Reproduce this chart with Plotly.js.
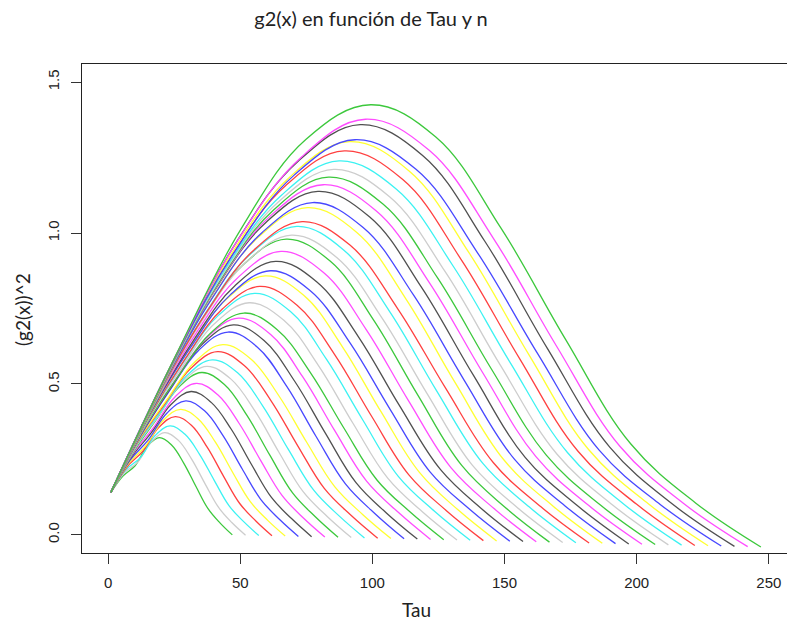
<!DOCTYPE html>
<html>
<head>
<meta charset="utf-8">
<script src="https://cdn.plot.ly/plotly-3.0.1.min.js"></script>
<style>
  html, body { margin: 0; padding: 0; background: #fff; overflow: hidden; }
  #chart { width: 787px; height: 624px; }
</style>
</head>
<body>
<div id="chart"></div>
<script>
// End of each curve (Tau at which the curve for a given n stops)
const tauEnd = [47,52,57,62,67,72,77,82,87,92,97,102,107,112,117,122,127,132,137,142,147,
                152,157,162,167,172,177,182,187,192,197,202,207,212,217,222,227,232,237,242,247];
// Sampling positions along each curve (fraction of its Tau span, from Tau = 1 to its end)
const tauFrac = [0, 0.1, 0.2, 0.3, 0.4, 0.5, 0.6, 0.7, 0.8, 0.9, 1];

// (g2(x))^2, one array per curve
const n47  = [0.14,0.195,0.229,0.293,0.322,0.298,0.238,0.161,0.087,0.039,0.000];
const n52  = [0.14,0.205,0.241,0.308,0.339,0.314,0.251,0.169,0.091,0.040,-0.001];
const n57  = [0.14,0.215,0.256,0.329,0.361,0.334,0.267,0.180,0.096,0.043,-0.002];
const n62  = [0.14,0.225,0.278,0.357,0.392,0.363,0.289,0.194,0.104,0.046,-0.003];
const n67  = [0.14,0.235,0.295,0.379,0.416,0.385,0.307,0.206,0.110,0.048,-0.004];
const n72  = [0.14,0.245,0.315,0.404,0.444,0.411,0.327,0.219,0.117,0.051,-0.005];
const n77  = [0.14,0.255,0.337,0.432,0.475,0.439,0.350,0.234,0.124,0.054,-0.006];
const n82  = [0.14,0.265,0.356,0.457,0.502,0.464,0.369,0.247,0.131,0.056,-0.007];
const n87  = [0.14,0.275,0.382,0.490,0.538,0.498,0.395,0.264,0.139,0.060,-0.008];
const n92  = [0.14,0.285,0.396,0.508,0.558,0.516,0.410,0.273,0.143,0.061,-0.009];
const n97  = [0.14,0.295,0.412,0.528,0.580,0.537,0.426,0.283,0.148,0.063,-0.010];
const n102 = [0.14,0.305,0.431,0.552,0.607,0.561,0.445,0.296,0.154,0.065,-0.011];
const n107 = [0.14,0.315,0.447,0.573,0.630,0.583,0.461,0.306,0.159,0.067,-0.012];
const n112 = [0.14,0.325,0.477,0.612,0.672,0.622,0.492,0.326,0.169,0.071,-0.013];
const n117 = [0.14,0.335,0.494,0.633,0.696,0.644,0.509,0.337,0.173,0.072,-0.014];
const n122 = [0.14,0.345,0.510,0.653,0.718,0.664,0.524,0.346,0.178,0.074,-0.015];
const n127 = [0.14,0.355,0.522,0.669,0.735,0.680,0.537,0.354,0.181,0.075,-0.016];
const n132 = [0.14,0.365,0.546,0.700,0.769,0.711,0.561,0.369,0.188,0.077,-0.017];
const n137 = [0.14,0.375,0.568,0.728,0.800,0.740,0.582,0.383,0.194,0.079,-0.018];
const n142 = [0.14,0.385,0.584,0.749,0.823,0.761,0.599,0.393,0.199,0.081,-0.019];
const n147 = [0.14,0.395,0.609,0.781,0.858,0.794,0.624,0.409,0.207,0.083,-0.020];
const n152 = [0.14,0.405,0.621,0.796,0.875,0.809,0.635,0.416,0.209,0.084,-0.021];
const n157 = [0.14,0.415,0.643,0.824,0.906,0.838,0.658,0.429,0.216,0.086,-0.022];
const n162 = [0.14,0.425,0.667,0.854,0.939,0.869,0.681,0.444,0.222,0.088,-0.023];
const n167 = [0.14,0.435,0.696,0.892,0.980,0.907,0.710,0.463,0.230,0.090,-0.024];
const n172 = [0.14,0.445,0.705,0.904,0.993,0.919,0.719,0.468,0.231,0.090,-0.025];
const n177 = [0.14,0.455,0.726,0.930,1.022,0.945,0.739,0.479,0.237,0.092,-0.026];
const n182 = [0.14,0.465,0.737,0.945,1.038,0.960,0.749,0.486,0.239,0.092,-0.027];
const n187 = [0.14,0.475,0.770,0.986,1.084,1.003,0.783,0.506,0.248,0.095,-0.028];
const n192 = [0.14,0.485,0.782,1.002,1.101,1.018,0.794,0.513,0.250,0.096,-0.029];
const n197 = [0.14,0.495,0.808,1.036,1.138,1.053,0.820,0.529,0.257,0.098,-0.030];
const n202 = [0.14,0.505,0.824,1.056,1.160,1.073,0.835,0.538,0.260,0.097,-0.031];
const n207 = [0.14,0.515,0.841,1.078,1.185,1.096,0.852,0.547,0.264,0.098,-0.032];
const n212 = [0.14,0.525,0.860,1.102,1.211,1.120,0.871,0.558,0.268,0.099,-0.033];
const n217 = [0.14,0.535,0.880,1.127,1.239,1.146,0.890,0.570,0.273,0.100,-0.034];
const n222 = [0.14,0.545,0.903,1.158,1.272,1.177,0.912,0.584,0.277,0.102,-0.035];
const n227 = [0.14,0.555,0.925,1.186,1.303,1.205,0.934,0.597,0.283,0.103,-0.036];
const n232 = [0.14,0.565,0.929,1.191,1.309,1.211,0.937,0.598,0.281,0.101,-0.037];
const n237 = [0.14,0.575,0.965,1.237,1.359,1.257,0.972,0.618,0.291,0.103,-0.038];
const n242 = [0.14,0.585,0.978,1.253,1.377,1.274,0.985,0.625,0.292,0.103,-0.039];
const n247 = [0.14,0.595,1.012,1.310,1.425,1.318,1.017,0.646,0.301,0.105,-0.040];

const curves = [n47,n52,n57,n62,n67,n72,n77,n82,n87,n92,n97,n102,n107,n112,n117,n122,n127,
                n132,n137,n142,n147,n152,n157,n162,n167,n172,n177,n182,n187,n192,n197,n202,
                n207,n212,n217,n222,n227,n232,n237,n242,n247];

// R default palette: black, red, green3, blue, cyan, magenta, yellow, gray
const palette = ["#505050","#ff4040","#3cc83c","#4848ff","#3cf2f2","#ff4cff","#ffff30","#cdcdcd"];

// Axis ticks
const xTicks = [0, 50, 100, 150, 200, 250];
const yTicks = [0, 0.5, 1, 1.5];
const yTickText = ["0.0", "0.5", "1.0", "1.5"];

const traces = curves.map((ys, k) => {
  const end = tauEnd[k];
  return {
    type: "scatter",
    mode: "lines",
    x: tauFrac.map(f => 1 + f * (end - 1)),
    y: ys,
    line: { color: palette[(2 + 5 * k) % 8], width: 1.3, shape: "spline", smoothing: 1.1 },
    hoverinfo: "skip",
    showlegend: false
  };
});

const titleFont = { family: "Lato, 'Open Sans', sans-serif", size: 20, color: "#222" };
const labelFont = { family: "Lato, 'Open Sans', sans-serif", size: 19, color: "#222" };
const tickFont = { family: "'Liberation Sans', Arial, sans-serif", size: 15, color: "#222" };

const layout = {
  width: 787,
  height: 624,
  margin: { l: 82, r: 0, t: 64, b: 71, pad: 0 },
  paper_bgcolor: "#fff",
  plot_bgcolor: "#fff",
  showlegend: false,
  title: {
    text: "g2(x) en función de Tau y n",
    font: titleFont,
    xref: "container", x: 371 / 787, xanchor: "center",
    yref: "container", y: 1 - 19 / 624, yanchor: "middle"
  },
  xaxis: {
    range: [-9.88, 256.88],
    tickmode: "array", tickvals: xTicks, ticktext: xTicks.map(String),
    ticks: "outside", ticklen: 10, tickwidth: 1, tickcolor: "#333",
    showline: true, mirror: true, linecolor: "#222", linewidth: 1.2,
    showgrid: false, zeroline: false,
    tickfont: tickFont, ticklabelstandoff: 6
  },
  yaxis: {
    range: [-0.06, 1.56],
    tickmode: "array", tickvals: yTicks, ticktext: yTickText,
    tickangle: -90,
    ticks: "outside", ticklen: 10, tickwidth: 1, tickcolor: "#333",
    showline: true, mirror: true, linecolor: "#222", linewidth: 1.2,
    showgrid: false, zeroline: false,
    tickfont: tickFont, ticklabelstandoff: 6
  },
  annotations: [
    { text: "Tau", xref: "paper", yref: "paper", x: (416 - 82) / 705, y: (553 - 609) / 489,
      xanchor: "center", yanchor: "middle", showarrow: false, font: labelFont },
    { text: "(g2(x))^2", xref: "paper", yref: "paper", x: (22 - 82) / 705, y: (553 - 310) / 489,
      xanchor: "center", yanchor: "middle", textangle: -90, showarrow: false, font: labelFont }
  ]
};

Plotly.newPlot("chart", traces, layout, { staticPlot: true, displayModeBar: false });
</script>
</body>
</html>
